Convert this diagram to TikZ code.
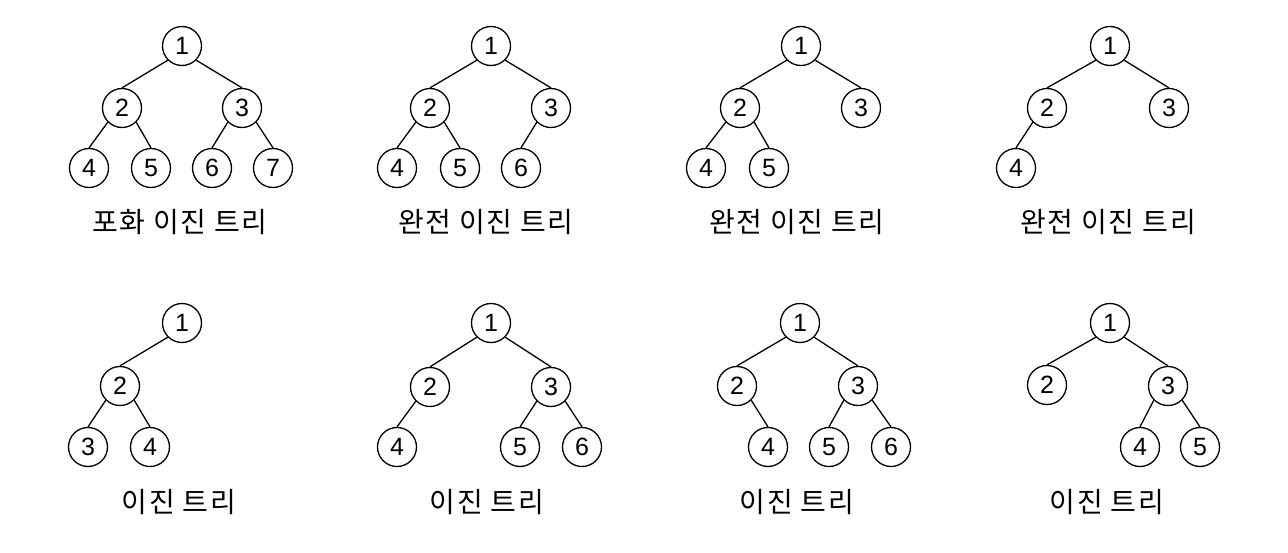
\documentclass[tikz,border=0pt]{standalone}
\usepackage{fontspec}
\setmainfont{Liberation Sans}
\newfontfamily\kr[LetterSpace=6]{Noto Sans CJK KR}
\tikzset{
  tn/.style={circle,draw=black,line width=1.3pt,minimum size=39pt,inner sep=0pt,
    font=\fontsize{25}{25}\selectfont},
  lbl/.style={font=\kr\fontsize{28}{28}\selectfont,inner sep=0pt},
  edge/.style={draw=black,line width=1.3pt}
}
\begin{document}
\begin{tikzpicture}[x=1pt,y=-1pt]
\useasboundingbox[fill=white] (0,0) rectangle (1288,552);
% Tree 1
\node[tn] (a1) at (182,46) {1};
\node[tn] (a2) at (122,108) {2};
\node[tn] (a3) at (242,108) {3};
\node[tn] (a4) at (89,168) {4};
\node[tn] (a5) at (151,168) {5};
\node[tn] (a6) at (212,168) {6};
\node[tn] (a7) at (273,168) {7};
\node[lbl] (la) at (180,222) {포화 이진 트리};
\draw[edge] (a1.south west) -- (a2.north);
\draw[edge] (a1.south east) -- (a3.north);
\draw[edge] (a2.south west) -- (a4.north);
\draw[edge] (a2.south east) -- (a5.north);
\draw[edge] (a3.south west) -- (a6.north);
\draw[edge] (a3.south east) -- (a7.north);
% Tree 2
\node[tn] (b1) at (491,46) {1};
\node[tn] (b2) at (430,108) {2};
\node[tn] (b3) at (551,108) {3};
\node[tn] (b4) at (397,168) {4};
\node[tn] (b5) at (460,168) {5};
\node[tn] (b6) at (521,168) {6};
\node[lbl] (lb) at (486,222) {완전 이진 트리};
\draw[edge] (b1.south west) -- (b2.north);
\draw[edge] (b1.south east) -- (b3.north);
\draw[edge] (b2.south west) -- (b4.north);
\draw[edge] (b2.south east) -- (b5.north);
\draw[edge] (b3.south west) -- (b6.north);
% Tree 3
\node[tn] (c1) at (801,46) {1};
\node[tn] (c2) at (740,108) {2};
\node[tn] (c3) at (861,108) {3};
\node[tn] (c4) at (706,168) {4};
\node[tn] (c5) at (769,168) {5};
\node[lbl] (lc) at (797,222) {완전 이진 트리};
\draw[edge] (c1.south west) -- (c2.north);
\draw[edge] (c1.south east) -- (c3.north);
\draw[edge] (c2.south west) -- (c4.north);
\draw[edge] (c2.south east) -- (c5.north);
% Tree 4
\node[tn] (d1) at (1110,46) {1};
\node[tn] (d2) at (1047,108) {2};
\node[tn] (d3) at (1169,108) {3};
\node[tn] (d4) at (1016,168) {4};
\node[lbl] (ld) at (1108,222) {완전 이진 트리};
\draw[edge] (d1.south west) -- (d2.north);
\draw[edge] (d1.south east) -- (d3.north);
\draw[edge] (d2.south west) -- (d4.north);
% Tree 5
\node[tn] (e1) at (182,323) {1};
\node[tn] (e2) at (120,386) {2};
\node[tn] (e3) at (88,447) {3};
\node[tn] (e4) at (150,447) {4};
\node[lbl] (le) at (179,502) {이진 트리};
\draw[edge] (e1.south west) -- (e2.north);
\draw[edge] (e2.south west) -- (e3.north);
\draw[edge] (e2.south east) -- (e4.north);
% Tree 6
\node[tn] (f1) at (491,323) {1};
\node[tn] (f2) at (430,387) {2};
\node[tn] (f3) at (551,387) {3};
\node[tn] (f4) at (397,447) {4};
\node[tn] (f5) at (520,447) {5};
\node[tn] (f6) at (582,447) {6};
\node[lbl] (lf) at (487,502) {이진 트리};
\draw[edge] (f1.south west) -- (f2.north);
\draw[edge] (f1.south east) -- (f3.north);
\draw[edge] (f2.south west) -- (f4.north);
\draw[edge] (f3.south west) -- (f5.north);
\draw[edge] (f3.south east) -- (f6.north);
% Tree 7
\node[tn] (g1) at (800,323) {1};
\node[tn] (g2) at (737,386) {2};
\node[tn] (g3) at (858,386) {3};
\node[tn] (g4) at (768,447) {4};
\node[tn] (g5) at (829,447) {5};
\node[tn] (g6) at (891,447) {6};
\node[lbl] (lg) at (797,502) {이진 트리};
\draw[edge] (g1.south west) -- (g2.north);
\draw[edge] (g1.south east) -- (g3.north);
\draw[edge] (g2.south east) -- (g4.north);
\draw[edge] (g3.south west) -- (g5.north);
\draw[edge] (g3.south east) -- (g6.north);
% Tree 8
\node[tn] (h1) at (1110,323) {1};
\node[tn] (h2) at (1047,385) {2};
\node[tn] (h3) at (1168,386) {3};
\node[tn] (h4) at (1140,447) {4};
\node[tn] (h5) at (1200,447) {5};
\node[lbl] (lh) at (1107,502) {이진 트리};
\draw[edge] (h1.south west) -- (h2.north);
\draw[edge] (h1.south east) -- (h3.north);
\draw[edge] (h3.south west) -- (h4.north);
\draw[edge] (h3.south east) -- (h5.north);
\end{tikzpicture}
\end{document}
